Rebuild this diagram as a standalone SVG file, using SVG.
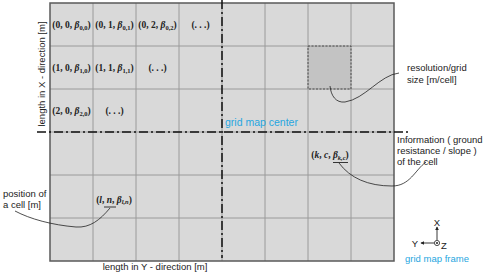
<svg xmlns="http://www.w3.org/2000/svg" width="485" height="273" viewBox="0 0 485 273">
<defs>
<style>
.grid{stroke:#9a9a9a;stroke-width:1;fill:none}
.dd{stroke:#111;stroke-width:1.5;fill:none;stroke-dasharray:9,3,2,3}
.lead{stroke:#222;stroke-width:0.8;fill:none}
.cell{font-family:"Liberation Serif",serif;font-weight:bold;font-size:9.5px;fill:#222;text-anchor:middle}
.it{font-style:italic}
.sub{font-size:6.5px}
.note{font-family:"Liberation Sans",Arial,sans-serif;font-size:9.5px;fill:#222}
.blue{font-family:"Liberation Sans",Arial,sans-serif;fill:#26a6e0}
</style>
<marker id="ah" viewBox="0 0 6 6" refX="5" refY="3" markerWidth="4" markerHeight="4" orient="auto">
<path d="M0,0 L6,3 L0,6 z" fill="#222"/>
</marker>
</defs>

<g id="gridmap">
<rect x="50" y="3" width="344" height="258" fill="#d9d9d9"/>
<rect id="resolution-cell" x="308" y="46" width="43" height="43" fill="#c3c3c3"/>
<path class="grid" d="M93,3V261M136,3V261M179,3V261M222,3V261M265,3V261M308,3V261M351,3V261M50,46H394M50,89H394M50,132H394M50,175H394M50,218H394"/>
<rect x="308" y="46" width="43" height="43" fill="none" stroke="#444" stroke-width="0.9" stroke-dasharray="2,1.5"/>
<rect x="50" y="3" width="344" height="258" fill="none" stroke="#5a5a5a" stroke-width="1.5"/>
</g>

<g id="center-axes">
<line class="dd" x1="222" y1="0" x2="222" y2="258"/>
<line class="dd" x1="37" y1="132" x2="408" y2="132"/>
<text class="blue" x="225" y="126" font-size="10.5">grid map center</text>
</g>

<g id="cell-labels">
<text class="cell" x="71.5" y="28">(0, 0, <tspan class="it">β</tspan><tspan class="sub" dy="1.5">0,0</tspan><tspan dy="-1.5">)</tspan></text>
<text class="cell" x="114.5" y="28">(0, 1, <tspan class="it">β</tspan><tspan class="sub" dy="1.5">0,1</tspan><tspan dy="-1.5">)</tspan></text>
<text class="cell" x="157.5" y="28">(0, 2, <tspan class="it">β</tspan><tspan class="sub" dy="1.5">0,2</tspan><tspan dy="-1.5">)</tspan></text>
<text class="cell" x="200.5" y="28">(. . .)</text>
<text class="cell" x="71.5" y="71">(1, 0, <tspan class="it">β</tspan><tspan class="sub" dy="1.5">1,0</tspan><tspan dy="-1.5">)</tspan></text>
<text class="cell" x="114.5" y="71">(1, 1, <tspan class="it">β</tspan><tspan class="sub" dy="1.5">1,1</tspan><tspan dy="-1.5">)</tspan></text>
<text class="cell" x="157.5" y="71">(. . .)</text>
<text class="cell" x="71.5" y="114">(2, 0, <tspan class="it">β</tspan><tspan class="sub" dy="1.5">2,0</tspan><tspan dy="-1.5">)</tspan></text>
<text class="cell" x="114.5" y="114">(. . .)</text>
</g>

<g id="cell-kc">
<text class="cell" x="330" y="158">(<tspan class="it">k</tspan>, <tspan class="it">c</tspan>, <tspan class="it">β</tspan><tspan class="sub it" dy="1.5">k,c</tspan><tspan dy="-1.5">)</tspan></text>
<line x1="333" y1="162.5" x2="348" y2="162.5" stroke="#222" stroke-width="0.9"/>
</g>

<g id="cell-ln">
<text class="cell" x="114" y="202.5">(<tspan class="it">l</tspan>, <tspan class="it">n</tspan>, <tspan class="it">β</tspan><tspan class="sub it" dy="1.5">l,n</tspan><tspan dy="-1.5">)</tspan></text>
<line x1="104" y1="207" x2="116" y2="207" stroke="#222" stroke-width="0.9"/>
</g>

<g id="connectors">
<path class="lead" d="M330,86 C331,96 336,103 345,102 C365,99 380,75 399,73"/>
<path class="lead" d="M339,163 C350,178 368,186 392,186 C410,186 415,170 426,162"/>
<path class="lead" d="M110,208 C100,220 90,228 76,227 C52,225 30,219 15,211"/>
</g>

<g id="annotation-resolution">
<text class="note" x="407" y="71">resolution/grid</text>
<text class="note" x="407" y="83">size [m/cell]</text>
</g>

<g id="annotation-information">
<text class="note" x="397" y="143">Information ( ground</text>
<text class="note" x="397" y="154">resistance / slope )</text>
<text class="note" x="397" y="165">of the cell</text>
</g>

<g id="annotation-position">
<text class="note" x="3" y="197">position of</text>
<text class="note" x="3" y="208">a cell [m]</text>
</g>

<g id="axis-labels">
<text class="note" x="155" y="270" text-anchor="middle" font-size="9">length in Y - direction [m]</text>
<text class="note" transform="translate(45,74) rotate(-90)" text-anchor="middle" font-size="9">length in X - direction [m]</text>
</g>

<g id="frame">
<line x1="437" y1="240" x2="437" y2="227" stroke="#222" stroke-width="0.9" marker-end="url(#ah)"/>
<line x1="434" y1="243" x2="421" y2="243" stroke="#222" stroke-width="0.9" marker-end="url(#ah)"/>
<circle cx="437" cy="243" r="2.6" fill="none" stroke="#222" stroke-width="0.8"/>
<circle cx="437" cy="243" r="1" fill="#222"/>
<text class="note" x="437" y="226" text-anchor="middle" font-size="9">X</text>
<text class="note" x="415" y="246.5" text-anchor="middle" font-size="9">Y</text>
<text class="note" x="444" y="249" text-anchor="middle" font-size="9">Z</text>
<text class="blue" x="437" y="262" text-anchor="middle" font-size="9.5">grid map frame</text>
</g>
</svg>
